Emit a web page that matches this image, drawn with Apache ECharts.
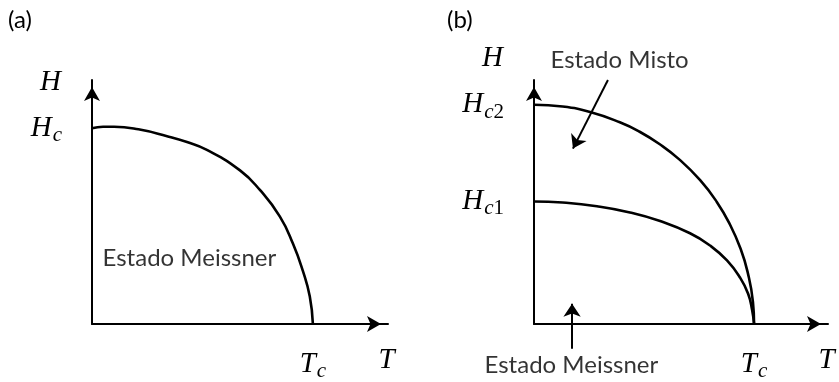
<!DOCTYPE html>
<html>
<head>
<meta charset="utf-8">
<script src="https://cdn.jsdelivr.net/npm/echarts@6/dist/echarts.min.js"></script>
<style>
  html, body { margin: 0; padding: 0; background: #ffffff; }
  #chart { width: 839px; height: 382px; }
</style>
</head>
<body>
<div id="chart"></div>
<script>
// Reduced units: temperature T/Tc, field H/Hc (panel a) or H/Hc2 (panel b)

// (a) type-I superconductor: critical field curve Hc(T)
const curveA_T = [0, 0.05, 0.1, 0.21, 0.34, 0.43, 0.52, 0.67, 0.76, 0.85, 0.91, 0.955, 0.986, 1];
const curveA_H = [1.0, 1.008, 1.008, 0.995, 0.96, 0.93, 0.89, 0.785, 0.685, 0.55, 0.41, 0.27, 0.14, 0];

// (b) type-II superconductor: upper critical field Hc2(T)
const curveHc2_T = [0, 0.13, 0.255, 0.39, 0.48, 0.57, 0.66, 0.755, 0.83, 0.89, 0.94, 0.97, 0.995, 1];
const curveHc2_H = [1.0, 0.992, 0.967, 0.92, 0.877, 0.821, 0.751, 0.656, 0.558, 0.455, 0.34, 0.24, 0.1, 0];

// (b) lower critical field Hc1(T)
const curveHc1_T = [0, 0.13, 0.286, 0.436, 0.573, 0.709, 0.8, 0.877, 0.936, 0.973, 0.991, 1];
const curveHc1_H = [0.559, 0.554, 0.537, 0.509, 0.47, 0.414, 0.358, 0.29, 0.212, 0.138, 0.065, 0];

// Axis extents (arrow tips)
const axisMaxA = { T: 1.34, H: 1.247 };
const axisMaxB = { T: 1.336, H: 1.113 };

// Tick labels
const xTickValuesA = [1, 1.333];
const xTickLabelsA = ['T_c', 'T'];
const yTickValuesA = [1];
const yTickLabelsA = ['H_c'];
const xTickValuesB = [1, 1.33];
const xTickLabelsB = ['T_c', 'T'];
const yTickValuesB = [0.559, 1];
const yTickLabelsB = ['H_c1', 'H_c2'];

// Region labels and pointer arrows (data coordinates)
const regionLabelsA = [{ text: 'Estado Meissner', T: 0.441, H: 0.335 }];
const regionLabelsB = [
  { text: 'Estado Misto', T: 0.389, H: 1.205 },
  { text: 'Estado Meissner', T: 0.170, H: -0.186 }
];
const arrowsB = [
  [[0.336, 1.113], [0.177, 0.80]],
  [[0.173, -0.113], [0.173, 0.092]]
];

const MATH_FONT = 'Liberation Serif';
const TEXT_FONT = 'Lato';

function toPairs(xs, ys) { return xs.map((x, i) => [x, ys[i]]); }

// 'H_c2' -> rich text with italic base letter and lowered subscript
function mathLabel(s) {
  const parts = s.split('_');
  if (parts.length === 1) return '{m|' + s + '}';
  let out = '{m|' + parts[0] + '}';
  for (const ch of parts[1]) {
    out += /[0-9]/.test(ch) ? '{n|' + ch + '}' : '{s|' + ch + '}';
  }
  return out;
}

const mathRich = {
  m: { fontFamily: MATH_FONT, fontStyle: 'italic', fontSize: 29, color: '#000' },
  s: { fontFamily: MATH_FONT, fontStyle: 'italic', fontSize: 21, color: '#000', padding: [15, 0, 0, 1] },
  n: { fontFamily: MATH_FONT, fontStyle: 'normal', fontSize: 21, color: '#000', padding: [15, 0, 0, 0] }
};

function labelFormatter(values, labels) {
  return function (v) {
    for (let i = 0; i < values.length; i++) {
      if (Math.abs(values[i] - v) < 1e-6) return mathLabel(labels[i]);
    }
    return '';
  };
}

const axisLineStyle = {
  show: true,
  onZero: false,
  symbol: ['none', 'arrow'],
  symbolSize: [12, 14],
  symbolOffset: [0, -7],
  lineStyle: { color: '#000', width: 2 }
};

function xAxisCfg(gridIndex, max, values, labels) {
  return {
    type: 'value', gridIndex, min: 0, max,
    axisLine: axisLineStyle,
    axisTick: { show: false },
    splitLine: { show: false },
    axisLabel: {
      customValues: values,
      margin: 22,
      formatter: labelFormatter(values, labels),
      rich: mathRich
    }
  };
}

function yAxisCfg(gridIndex, max, values, labels, nameGap) {
  return {
    type: 'value', gridIndex, min: 0, max,
    name: 'H',
    nameLocation: 'end',
    nameGap,
    nameTextStyle: {
      fontFamily: MATH_FONT, fontStyle: 'italic', fontSize: 29, color: '#000',
      align: 'right', verticalAlign: 'middle', padding: [0, 31, 0, 0]
    },
    axisLine: axisLineStyle,
    axisTick: { show: false },
    splitLine: { show: false },
    axisLabel: {
      customValues: values,
      margin: 30,
      formatter: labelFormatter(values, labels),
      rich: mathRich
    }
  };
}

function curveSeries(axisIndex, xs, ys) {
  return {
    type: 'line', xAxisIndex: axisIndex, yAxisIndex: axisIndex,
    data: toPairs(xs, ys),
    smooth: 0.5,
    showSymbol: false, silent: true,
    lineStyle: { color: '#000', width: 2.6 },
    clip: false
  };
}

function textSeries(axisIndex, items) {
  return {
    type: 'scatter', xAxisIndex: axisIndex, yAxisIndex: axisIndex,
    clip: false, silent: true,
    symbolSize: 0,
    data: items.map(d => ({ value: [d.T, d.H], name: d.text })),
    label: {
      show: true, position: 'inside', formatter: '{b}',
      fontFamily: TEXT_FONT, fontSize: 24, color: '#000'
    }
  };
}

const chart = echarts.init(document.getElementById('chart'), null, { renderer: 'canvas' });

chart.setOption({
  animation: false,
  backgroundColor: '#ffffff',
  title: [
    { text: '(a)', left: 8, top: 8, padding: 0, textStyle: { fontFamily: TEXT_FONT, fontSize: 24, fontWeight: 'normal', color: '#000' } },
    { text: '(b)', left: 447, top: 8, padding: 0, textStyle: { fontFamily: TEXT_FONT, fontSize: 24, fontWeight: 'normal', color: '#000' } }
  ],
  grid: [
    { left: 92, top: 80, width: 296, height: 247, containLabel: false },
    { left: 534, top: 80, width: 294, height: 247, containLabel: false }
  ],
  xAxis: [
    xAxisCfg(0, axisMaxA.T, xTickValuesA, xTickLabelsA),
    xAxisCfg(1, axisMaxB.T, xTickValuesB, xTickLabelsB)
  ],
  yAxis: [
    yAxisCfg(0, axisMaxA.H, yTickValuesA, yTickLabelsA, -2),
    yAxisCfg(1, axisMaxB.H, yTickValuesB, yTickLabelsB, 22)
  ],
  series: [
    curveSeries(0, curveA_T, curveA_H),
    curveSeries(1, curveHc2_T, curveHc2_H),
    curveSeries(1, curveHc1_T, curveHc1_H),
    textSeries(0, regionLabelsA),
    textSeries(1, regionLabelsB),
    {
      type: 'lines', coordinateSystem: 'cartesian2d', xAxisIndex: 1, yAxisIndex: 1,
      clip: false, silent: true,
      symbol: ['none', 'arrow'], symbolSize: 13,
      lineStyle: { color: '#000', width: 2, opacity: 1, curveness: 0 },
      data: arrowsB.map(c => ({ coords: c }))
    }
  ]
});
</script>
</body>
</html>
